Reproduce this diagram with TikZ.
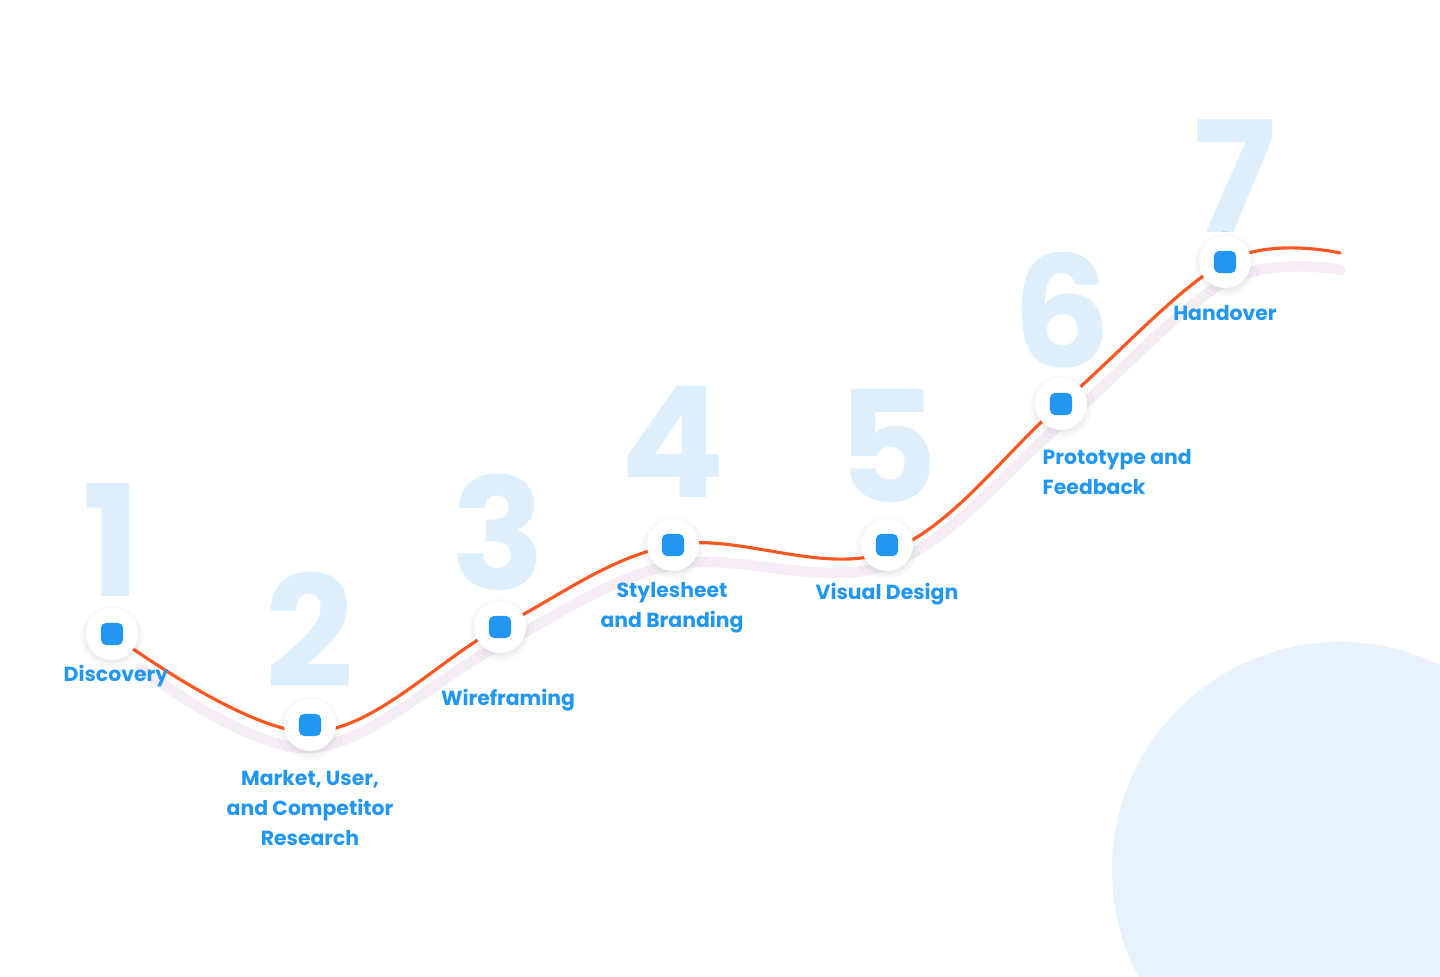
\documentclass[tikz,border=0pt]{standalone}
\usepackage{fontspec}
\setmainfont{Poppins}
\usetikzlibrary{shadows.blur}
\definecolor{stepBlue}{RGB}{33,150,243}
\definecolor{numBlue}{RGB}{221,238,252}
\definecolor{pathOrange}{RGB}{255,87,34}
\definecolor{blobBlue}{RGB}{232,242,252}
\tikzset{every picture/.style={x=0.01cm, y=-0.01cm},
        bigNum/.style={text=numBlue, font=\fontsize{44pt}{44pt}\selectfont\bfseries, inner sep=0pt},
        stepLabel/.style={text=stepBlue, font=\fontsize{5.8pt}{8.5pt}\selectfont\bfseries, align=center, inner sep=0pt},
        ring/.style={circle, fill=white, minimum size=14.8pt, inner sep=0pt, blur shadow={shadow blur steps=6, shadow xshift=0pt, shadow yshift=-0.8pt, shadow opacity=12, shadow blur radius=2pt}},
        stepDot/.style={rounded corners=1.5pt, fill=stepBlue, minimum size=6.3pt, inner sep=0pt}}
\begin{document}
\begin{tikzpicture}
\useasboundingbox (0,0) rectangle (1440,977);
\fill[blobBlue] (1340,870) circle (228);

% big numbers
\node[bigNum] (n-1) at (112,540) {1};
\node[bigNum] (n-2) at (310,630) {2};
\node[bigNum] (n-3) at (498,532) {3};
\node[bigNum] (n-4) at (673,442) {4};
\node[bigNum] (n-5) at (888,446) {5};
\node[bigNum] (n-6) at (1062,310) {6};
\node[bigNum] (n-7) at (1235,176) {7};

% path shadow and path
\draw[line width=3pt, violet!30, opacity=0.25, line cap=round]
  plot[smooth, tension=0.6] coordinates {(140,668) (310,748) (500,645) (673,565) (887,565) (1061,424) (1225,282) (1340,270)};
\draw[line width=0.9pt, pathOrange, line cap=round]
  plot[smooth, tension=0.6] coordinates {(112,634) (310,732) (500,627) (673,545) (887,552) (1061,404) (1225,262) (1340,253)};

% steps
\foreach \i/\x/\y in {1/112/634, 2/310/725, 3/500/627, 4/673/545, 5/887/545, 6/1061/404, 7/1225/262} {
    \node[ring] (r-\i) at (\x,\y) {};
    \node[stepDot] (d-\i) at (\x,\y) {};
}

% labels
\node[stepLabel] (l-1) at (116,676) {Discovery};
\node[stepLabel] (l-2) at (310,808) {Market, User,\\and Competitor\\Research};
\node[stepLabel] (l-3) at (508,700) {Wireframing};
\node[stepLabel] (l-4) at (672,608) {Stylesheet\\and Branding};
\node[stepLabel] (l-5) at (887,594) {Visual Design};
\node[stepLabel, align=left, anchor=west] (l-6) at (1042,472) {Prototype and\\Feedback};
\node[stepLabel] (l-7) at (1225,313) {Handover};

\end{tikzpicture}
\end{document}
